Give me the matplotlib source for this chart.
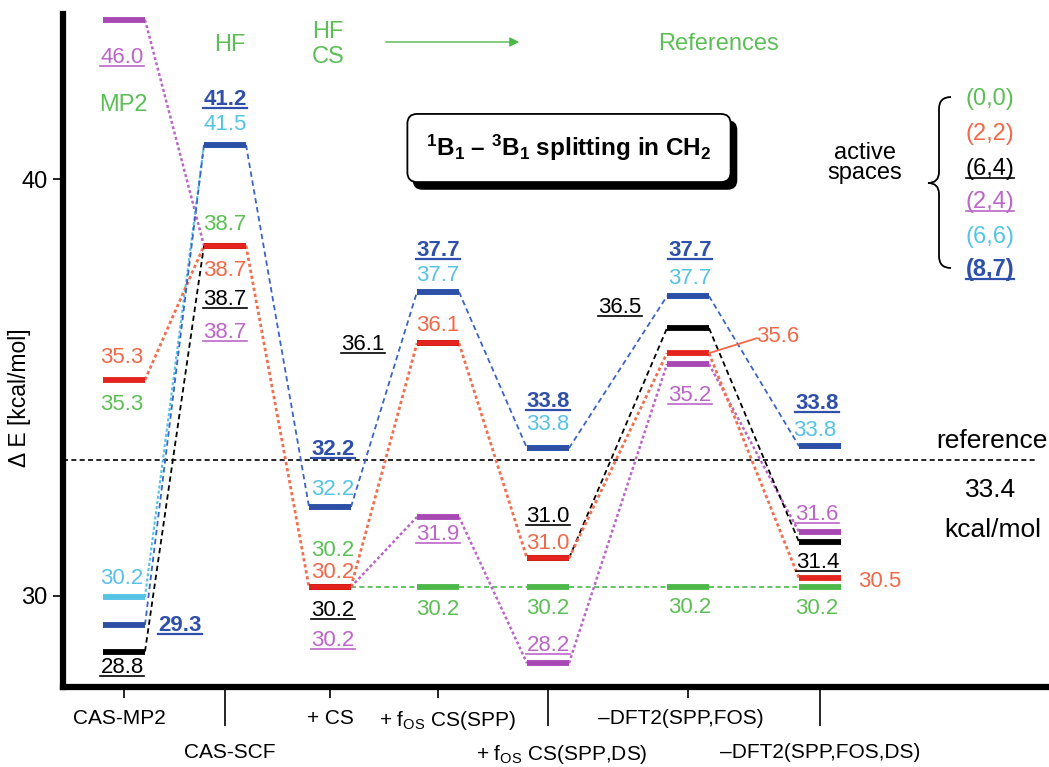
import numpy as np
import matplotlib.pyplot as plt
from matplotlib import transforms
from matplotlib.path import Path
from matplotlib.patches import PathPatch, FancyBboxPatch, FancyArrowPatch
from matplotlib.lines import Line2D

plt.rcParams['font.family'] = ['Liberation Sans', 'DejaVu Sans']
plt.rcParams['mathtext.fontset'] = 'custom'
plt.rcParams['mathtext.rm'] = 'Liberation Sans'
plt.rcParams['mathtext.bf'] = 'Liberation Sans:bold'
plt.rcParams['mathtext.it'] = 'Liberation Sans:italic'

nan = np.nan

# --- datos: niveles dibujados (kcal/mol) por espacio activo y método ---
metodos = ['CAS-MP2', 'CAS-SCF', '+ CS', '+ fOS CS(SPP)', '+ fOS CS(SPP,DS)',
           '-DFT2(SPP,FOS)', '-DFT2(SPP,FOS,DS)']
niv_00 = [nan, nan, 30.21, 30.21, 30.21, 30.21, 30.21]
niv_22 = [35.18, 38.40, 30.21, 36.06, 30.90, 35.82, 30.42]
niv_64 = [28.66, 38.40, 30.21, 36.06, 30.90, 36.42, 31.29]
niv_24 = [43.82, 38.40, 30.21, 31.89, 28.38, 35.56, 31.53]
niv_66 = [29.97, 40.82, 32.13, 37.29, 33.54, 37.19, 33.59]
niv_87 = [29.30, 40.82, 32.13, 37.29, 33.54, 37.19, 33.59]

# valores escritos junto a cada nivel
txt_00 = ['35.3', '38.7', '30.2', '30.2', '30.2', '30.2', '30.2']
txt_22 = ['35.3', '38.7', '30.2', '36.1', '31.0', '35.6', '30.5']
txt_64 = ['28.8', '38.7', '30.2', '36.1', '31.0', '36.5', '31.4']
txt_24 = ['46.0', '38.7', '30.2', '31.9', '28.2', '35.2', '31.6']
txt_66 = ['30.2', '41.5', '32.2', '37.7', '33.8', '37.7', '33.8']
txt_87 = ['29.3', '41.2', '32.2', '37.7', '33.8', '37.7', '33.8']

referencia = 33.25
espacios = ['(0,0)', '(2,2)', '(6,4)', '(2,4)', '(6,6)', '(8,7)']

# --- disposición (píxeles de la figura) ---
W, H = 1049, 767
PX = 41.67  # píxeles por kcal/mol
col_x = [124, 225, 330, 438, 548, 688, 820]
semi = 21
FS = 16

# posiciones de las etiquetas (x, y) en píxeles
pos_00 = [(122, 402), (225, 222), (333, 548), (438, 607), (548, 606), (690, 605), (817, 606)]
pos_22 = [(122, 355), (225, 268), (333, 570), (438, 323), (548, 541), (778, 334), (880, 579)]
pos_64 = [(122, 665), (225, 297), (333, 608), (363, 342), (548, 514), (620, 305), (818, 560)]
pos_24 = [(122, 55), (225, 330), (333, 638), (438, 532), (548, 643), (690, 393), (817, 512)]
pos_66 = [(122, 576), (225, 122), (333, 487), (438, 273), (548, 422), (690, 276), (815, 428)]
pos_87 = [(180, 623), (225, 97), (333, 447), (438, 248), (548, 399), (690, 248), (817, 401)]

# qué conexiones se ven
enl_00 = [False, False, True, True, True, True]
enl_22 = [True, True, True, True, True, True]
enl_64 = [True, False, False, False, True, True]
enl_24 = [True, False, True, True, True, True]
enl_66 = [True, False, False, False, False, False]
enl_87 = [True, True, True, True, True, True]

verde, verde_b = '#5cbf55', '#4cb84a'
rojo, rojo_b, rojo_l = '#f2694a', '#e4221e', '#f07050'
morado, morado_b = '#bb66c8', '#a848b4'
cian = '#55c3e5'
azul, azul_b, azul_l = '#2f50aa', '#2d4fa5', '#3a64c8'

# (niveles, textos, posiciones, enlaces, color texto, color barra, color línea,
#  estilo, grosor, subrayado, negrita)
series = [
    (niv_00, txt_00, pos_00, enl_00, verde, verde_b, verde_b, (0, (3, 2)), 1.2, False, False),
    (niv_24, txt_24, pos_24, enl_24, morado, morado_b, morado, (0, (1.2, 1)), 1.8, True, False),
    (niv_64, txt_64, pos_64, enl_64, 'black', 'black', 'black', (0, (3, 2)), 1.3, True, False),
    (niv_66, txt_66, pos_66, enl_66, cian, cian, cian, (0, (1.5, 1)), 1.5, False, False),
    (niv_22, txt_22, pos_22, enl_22, rojo, rojo_b, rojo_l, (0, (1.2, 1)), 2.0, False, False),
    (niv_87, txt_87, pos_87, enl_87, azul, azul_b, azul_l, (0, (3, 2)), 1.3, True, True),
]

fig = plt.figure(figsize=(W / 100, H / 100), dpi=100)
ax = fig.add_axes([63 / W, 1 - 687 / H, (W - 63) / W, (687 - 14) / H])
ax.set_xlim(63, W)
ax.set_ylim(40 - (687 - 179) / PX, 40 + (179 - 14) / PX)


def fxy(px, py):
    return (px / W, 1 - py / H)


subrayar = []
for k, (niv, txt, pos, enl, ct, cb, cl, est, gros, sub, neg) in enumerate(series):
    z = 3 + k
    # conexiones
    for i in range(len(niv) - 1):
        if enl[i] and not (np.isnan(niv[i]) or np.isnan(niv[i + 1])):
            ax.plot([col_x[i] + semi, col_x[i + 1] - semi], [niv[i], niv[i + 1]],
                    color=cl, lw=gros, linestyle=est, zorder=z, clip_on=False)
    # niveles
    for x, y in zip(col_x, niv):
        if not np.isnan(y):
            ax.plot([x - semi, x + semi], [y, y], color=cb, lw=4.2,
                    solid_capstyle='butt', zorder=z + 10, clip_on=False)
    # etiquetas
    for t, (px, py) in zip(txt, pos):
        tx = fig.text(*fxy(px, py + 8), t, color=ct, fontsize=FS, ha='center',
                      va='baseline', fontweight='bold' if neg else 'normal')
        if sub:
            subrayar.append((tx, ct, 1.6 if neg else 1.2, py + 11))

# línea de referencia experimental
ax.plot([63, 1035], [referencia, referencia], color='black', lw=1.2,
        linestyle=(0, (3, 2)), zorder=2, clip_on=False)

# guía de la etiqueta 35.6
ax.plot([col_x[5] + semi, 757], [niv_22[5], niv_22[5] + 15 / PX],
        color=rojo, lw=1.3, zorder=20)

# ejes
for s in ['top', 'right']:
    ax.spines[s].set_visible(False)
ax.spines['left'].set_linewidth(4.5)
ax.spines['bottom'].set_linewidth(4.5)
ax.set_yticks([30, 40])
ax.tick_params(axis='y', length=7, width=1.2, labelsize=17, pad=4)

ax.set_xticks([col_x[0], col_x[2], col_x[3], col_x[5]],
              ['CAS-MP2', '+ CS', '+ f$_{\\mathrm{OS}}$ CS(SPP)', '–DFT2(SPP,FOS)'])
ax.set_xticks([col_x[1], col_x[4], col_x[6]],
              ['CAS-SCF', '+ f$_{\\mathrm{OS}}$ CS(SPP,DS)', '–DFT2(SPP,FOS,DS)'], minor=True)
ax.tick_params(axis='x', which='major', length=8, width=1.2, labelsize=15, pad=8)
ax.tick_params(axis='x', which='minor', length=28, width=1.2, labelsize=15, pad=12)
desplaza = {'CAS-MP2': -5, 'CAS-SCF': 5, '+ f$_{\\mathrm{OS}}$ CS(SPP)': 9,
            '+ f$_{\\mathrm{OS}}$ CS(SPP,DS)': 14, '–DFT2(SPP,FOS)': -7}
for lab in ax.get_xticklabels() + ax.get_xticklabels(minor=True):
    dx = desplaza.get(lab.get_text(), 0)
    if dx:
        lab.set_transform(lab.get_transform() +
                          transforms.ScaledTranslation(dx / 100, 0, fig.dpi_scale_trans))

fig.text(*fxy(20, 398), 'Δ E [kcal/mol]', rotation=90, fontsize=16.5,
         ha='center', va='center')

# textos superiores
fig.text(*fxy(123, 111), 'MP2', color=verde, fontsize=17, ha='center', va='baseline')
fig.text(*fxy(230, 51), 'HF', color=verde, fontsize=17, ha='center', va='baseline')
fig.text(*fxy(328, 38), 'HF', color=verde, fontsize=17, ha='center', va='baseline')
fig.text(*fxy(328, 63), 'CS', color=verde, fontsize=17, ha='center', va='baseline')
fig.text(*fxy(718, 50), 'References', color=verde, fontsize=17, ha='center', va='baseline')
fig.add_artist(FancyArrowPatch(
    fxy(383, 42), fxy(522, 42), transform=fig.transFigure, arrowstyle='-|>',
    mutation_scale=14, color=verde_b, lw=1.0))

# recuadro del título con sombra
titulo = r'$^{\mathbf{1}}$B$_{\mathbf{1}}$ – $^{\mathbf{3}}$B$_{\mathbf{1}}$ splitting in CH$_{\mathbf{2}}$'
tit = fig.text(*fxy(569, 148), titulo, fontsize=17.5, fontweight='bold', ha='center',
               va='center', zorder=31,
               bbox=dict(boxstyle='round,pad=0.78,rounding_size=0.4', lw=1.3,
                         fc='white', ec='black'))

# espacios activos
fig.text(*fxy(865, 163), 'active\nspaces', fontsize=17, ha='center', va='center',
         linespacing=0.9)
colores_esp = [verde, rojo, 'black', morado, cian, azul]
ys_esp = [97, 132, 167, 200, 235, 268]
for e, c, y, s in zip(espacios, colores_esp, ys_esp,
                      [False, False, True, True, False, True]):
    tx = fig.text(*fxy(990, y + 8), e, color=c, fontsize=17, ha='center', va='baseline',
                  fontweight='bold' if c == azul else 'normal')
    if s:
        subrayar.append((tx, c, 1.6 if c == azul else 1.2, y + 11))

pts = [(951, 97), (939, 97), (939, 109), (939, 172), (939, 183), (928, 183),
       (939, 183), (939, 194), (939, 256), (939, 268), (951, 268)]
cod = [Path.MOVETO, Path.CURVE3, Path.CURVE3, Path.LINETO, Path.CURVE3, Path.CURVE3,
       Path.CURVE3, Path.CURVE3, Path.LINETO, Path.CURVE3, Path.CURVE3]
fig.add_artist(PathPatch(Path([fxy(*p) for p in pts], cod), fill=False, lw=1.3,
                         transform=fig.transFigure))

# referencia
fig.text(*fxy(992, 448), 'reference', fontsize=19, ha='center', va='baseline')
fig.text(*fxy(991, 497), '33.4', fontsize=19, ha='center', va='baseline')
fig.text(*fxy(993, 537), 'kcal/mol', fontsize=19, ha='center', va='baseline')

# subrayados y sombra del recuadro
fig.canvas.draw()
rend = fig.canvas.get_renderer()
for tx, c, lw, py in subrayar:
    bb = tx.get_window_extent(rend)
    yy = 1 - py / H
    fig.add_artist(Line2D([bb.x0 / W, bb.x1 / W], [yy, yy], color=c, lw=lw,
                          transform=fig.transFigure))

bb = tit.get_bbox_patch().get_window_extent(rend)
fig.add_artist(FancyBboxPatch((bb.x0 + 6, bb.y0 - 7), bb.width, bb.height,
                              boxstyle='round,pad=0,rounding_size=9', fc='black',
                              ec='black', transform=transforms.IdentityTransform(),
                              zorder=30))

plt.savefig('out.png', dpi=100, facecolor='white')
